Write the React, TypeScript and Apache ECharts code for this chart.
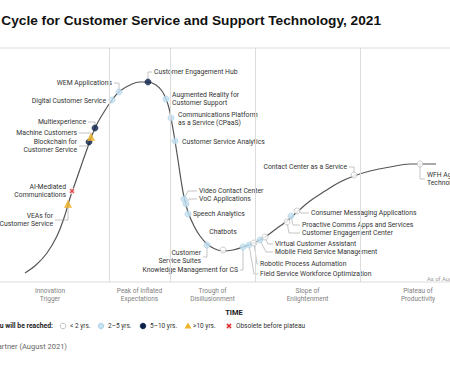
import React, { useEffect, useRef } from 'react';
import * as echarts from 'echarts';

// ---- data ----
const curveTime = [25, 36, 47, 57, 64, 70, 78, 86, 95, 104, 112, 120, 130, 140, 148, 156, 162, 166, 169, 171, 173, 175, 178, 181, 184, 188, 194, 200, 207, 215, 223, 233, 243, 254, 265, 276, 287, 297, 310, 325, 340, 354, 370, 390, 410, 420, 436];
const curveVisibility = [9, 17, 29, 46, 64, 84, 107, 130, 154, 170, 182, 191, 197, 200, 200, 197, 191, 183, 174, 164, 153, 141, 122, 102, 85, 70, 56, 46, 38, 33, 31, 32, 35, 39, 45, 53, 61, 70, 81, 91, 100, 106, 111, 115, 118, 118, 118];

const techNames = [
  'VEAs for\nCustomer Service',
  'AI-Mediated\nCommunications',
  'Blockchain for\nCustomer Service',
  'Machine Customers',
  'Multiexperience',
  'Digital Customer Service',
  'WEM Applications',
  'Customer Engagement Hub',
  'Augmented Reality for\nCustomer Support',
  'Communications Platform\nas a Service (CPaaS)',
  'Customer Service Analytics',
  'Video Contact Center',
  'VoC Applications',
  'Speech Analytics',
  'Customer\nService Suites',
  'Chatbots',
  'Knowledge Management for CS',
  'Field Service Workforce Optimization',
  'Robotic Process Automation',
  'Mobile Field Service Management',
  'Virtual Customer Assistant',
  'Customer Engagement Center',
  'Proactive Comms Apps and Services',
  'Consumer Messaging Applications',
  'Contact Center as a Service',
  'WFH Agent\nTechnologies',
];
const techTime = [68, 72, 89, 91, 95, 112, 119, 148, 166, 171, 175, 184, 186, 188, 207, 223, 243, 249, 254, 260, 265, 287, 291, 297, 354, 420];
const techVisibility = [78, 91, 140, 145, 154, 182, 190, 200, 183, 164, 141, 83, 78, 68, 37, 32, 35, 37, 39, 42, 45, 60, 66, 71, 107, 118];
const techPlateau = ['>10', 'obsolete', '5-10', '>10', '5-10', '2-5', '2-5', '5-10', '2-5', '2-5', '2-5', '2-5', '2-5', '2-5', '2-5', '<2', '2-5', '2-5', '<2', '2-5', '<2', '<2', '2-5', '<2', '<2', '<2'];

const phaseNames = ['Innovation\nTrigger', 'Peak of Inflated\nExpectations', 'Trough of\nDisillusionment', 'Slope of\nEnlightenment', 'Plateau of\nProductivity'];
const phaseBounds = [-9, 109, 170, 255, 360, 476];

const legendKeys = ['<2', '2-5', '5-10', '>10', 'obsolete'];
const legendLabels = ['< 2 yrs.', '2\u20135 yrs.', '5\u201310 yrs.', '>10 yrs.', 'Obsolete before plateau'];

// ---- layout / style (not data) ----
// [dx, dy, align, elbowDx, showLeader]
const labelLayout: [number, number, string, number, boolean][] = [
  [-15, 16, 'right', 0, true],
  [-6, 0, 'right', 0, false],
  [-12, 4, 'right', 0, true],
  [-14, -4, 'right', 0, true],
  [-9, -6, 'right', 0, true],
  [-6, 1, 'right', 0, false],
  [-7, -9, 'right', 0, true],
  [6, -10, 'left', 0, true],
  [6, 0, 'left', 0, false],
  [7, 1, 'left', 0, false],
  [7, 1, 'left', 0, false],
  [15, -8, 'left', 4, true],
  [13, -5, 'left', 3, true],
  [5, 0, 'left', 0, false],
  [-6, 12, 'right', 0, true],
  [0, -18, 'center', 0, false],
  [-5, 23, 'right', 0, true],
  [11, 29, 'left', 5, true],
  [6, 21, 'left', 3, true],
  [15, 12, 'left', 6, true],
  [10, 7, 'left', 3, true],
  [15, 11, 'left', 2, true],
  [11, 9, 'left', 2, true],
  [14, 2, 'left', 4, true],
  [-7, -8, 'right', 0, true],
  [7, 15, 'left', 0, true],
];

const OX = 40; // chart is cropped on the left by this much
const FONT = 'Roboto, "Noto Sans", sans-serif';
const LBL = '#333';
const LBL_SIZE = 6.8;

const styleFor: Record<string, any> = {
  '<2': { symbol: 'circle', size: 6, fill: '#ffffff', stroke: '#aeaeae' },
  '2-5': { symbol: 'circle', size: 6, fill: '#c4e2f3', stroke: '#a3cde6' },
  '5-10': { symbol: 'circle', size: 6, fill: '#0c2149', stroke: '#0c2149' },
  '>10': { symbol: 'triangle', size: 7, fill: '#efb32b', stroke: '#efb32b' },
  obsolete: { symbol: 'circle', size: 6, fill: '#fbdede', stroke: '#fbdede' },
};
const X_PATH = 'path://M2 0L5 3L8 0L10 2L7 5L10 8L8 10L5 7L2 10L0 8L3 5L0 2Z';

export default function App() {
  const ref = useRef<HTMLDivElement>(null);
  useEffect(() => {
    if (!ref.current) return;
    const chart = echarts.init(ref.current, undefined, { renderer: 'svg' });

    const markerData = techTime.map((t, i) => {
      const s = styleFor[techPlateau[i]];
      return {
        value: [t, techVisibility[i]],
        symbol: s.symbol,
        symbolSize: s.size,
        itemStyle: { color: s.fill, borderColor: s.stroke, borderWidth: 0.8 },
      };
    });
    const obsoleteData = techTime
      .map((t, i) => (techPlateau[i] === 'obsolete' ? [t, techVisibility[i]] : null))
      .filter((d) => d !== null);

    // legend graphics
    const legendY = 326;
    const legendSymX = [63, 101, 143, 188, 229];
    const legendTxtX = [70, 108, 150, 193, 236];
    const legendGraphics: any[] = [
      {
        type: 'text', x: 53 + OX, y: legendY,
        style: { text: 'Plateau will be reached:', fill: '#222', font: `bold 6.8px ${FONT}`, align: 'right', verticalAlign: 'middle' },
      },
    ];
    legendKeys.forEach((k, i) => {
      const s = styleFor[k];
      const cx = legendSymX[i] + OX;
      if (k === '>10') {
        legendGraphics.push({ type: 'polygon', shape: { points: [[cx, legendY - 3.5], [cx + 3.5, legendY + 2.5], [cx - 3.5, legendY + 2.5]] }, style: { fill: s.fill } });
      } else {
        legendGraphics.push({ type: 'circle', shape: { cx, cy: legendY, r: 2.8 }, style: { fill: s.fill, stroke: s.stroke, lineWidth: 0.8 } });
        if (k === 'obsolete') {
          legendGraphics.push({ type: 'line', shape: { x1: cx - 2, y1: legendY - 2, x2: cx + 2, y2: legendY + 2 }, style: { stroke: '#d9252a', lineWidth: 1.3 } });
          legendGraphics.push({ type: 'line', shape: { x1: cx - 2, y1: legendY + 2, x2: cx + 2, y2: legendY - 2 }, style: { stroke: '#d9252a', lineWidth: 1.3 } });
        }
      }
      legendGraphics.push({
        type: 'text', x: legendTxtX[i] + OX, y: legendY,
        style: { text: legendLabels[i], fill: LBL, font: `6.5px ${FONT}`, align: 'left', verticalAlign: 'middle' },
      });
    });

    chart.setOption({
      animation: false,
      backgroundColor: '#ffffff',
      grid: { left: -9 + OX, right: 530 - (476 + OX), top: 48, height: 234, show: true, borderColor: '#dcdcdc', borderWidth: 1 },
      xAxis: { type: 'value', min: -9, max: 476, show: false },
      yAxis: { type: 'value', min: 0, max: 234, show: false },
      graphic: [
        {
          type: 'text', x: -36 + OX, y: 20,
          style: { text: 'Hype Cycle for Customer Service and Support Technology, 2021', fill: '#111', font: 'bold 13.7px "Liberation Sans", Arial, sans-serif', align: 'left', verticalAlign: 'middle' },
        },
        {
          type: 'text', x: 234 + OX, y: 312,
          style: { text: 'TIME', fill: '#222', font: `bold 7.5px ${FONT}`, align: 'center', verticalAlign: 'middle' },
        },
        {
          type: 'text', x: 67 + OX, y: 346,
          style: { text: 'Source: Gartner (August 2021)', fill: '#666', font: `7.5px ${FONT}`, align: 'right', verticalAlign: 'middle' },
        },
        {
          type: 'text', x: 427 + OX, y: 279,
          style: { text: 'As of August 2021', fill: '#999', font: `5.8px ${FONT}`, align: 'left', verticalAlign: 'middle' },
        },
        ...legendGraphics,
      ],
      series: [
        {
          type: 'line',
          data: curveTime.map((t, i) => [t, curveVisibility[i]]),
          smooth: 0.4,
          showSymbol: false,
          silent: true,
          clip: false,
          lineStyle: { color: '#555', width: 1.2 },
          markLine: {
            silent: true,
            symbol: ['none', 'none'],
            label: { show: false },
            lineStyle: { color: '#dcdcdc', type: 'solid', width: 1 },
            data: phaseBounds.slice(1, -1).map((b) => ({ xAxis: b })),
          },
          markArea: {
            silent: true,
            itemStyle: { color: 'rgba(0,0,0,0)' },
            label: { position: 'bottom', distance: 5, fontSize: 6.5, lineHeight: 8, color: '#808080', fontFamily: FONT, align: 'center' },
            data: phaseNames.map((n, i) => [{ name: n, xAxis: phaseBounds[i] }, { xAxis: phaseBounds[i + 1] }]),
          },
          z: 2,
        },
        {
          type: 'custom',
          clip: false,
          silent: true,
          z: 3,
          data: techTime.map((t, i) => [t, techVisibility[i]]),
          renderItem: (params: any, api: any) => {
            const i = params.dataIndex;
            const p = api.coord([api.value(0), api.value(1)]);
            const [dx, dy, align, ex, line] = labelLayout[i];
            const tx = p[0] + dx;
            const ty = p[1] + dy;
            const children: any[] = [];
            if (line) {
              const endX = align === 'right' ? tx + 2 : align === 'left' ? tx - 2 : tx;
              children.push({
                type: 'polyline',
                shape: { points: [[p[0], p[1]], [p[0] + ex, ty], [endX, ty]] },
                style: { stroke: '#a0a0a0', lineWidth: 0.6, fill: null },
              });
            }
            children.push({
              type: 'text', x: tx, y: ty,
              style: { text: techNames[i], fill: LBL, font: `${LBL_SIZE}px ${FONT}`, lineHeight: 8, align, verticalAlign: 'middle' },
            });
            return { type: 'group', children };
          },
        },
        {
          type: 'scatter',
          silent: true,
          z: 4,
          data: markerData,
        },
        {
          type: 'scatter',
          silent: true,
          z: 5,
          symbol: X_PATH,
          symbolSize: 4.5,
          itemStyle: { color: '#d9252a' },
          data: obsoleteData,
        },
      ],
    });
    return () => chart.dispose();
  }, []);

  return (
    <div style={{ position: 'fixed', left: 0, top: 0, width: 450, height: 375, overflow: 'hidden', background: '#fff' }}>
      <div ref={ref} style={{ position: 'absolute', left: -OX, top: 0, width: 530, height: 375 }} />
    </div>
  );
}
